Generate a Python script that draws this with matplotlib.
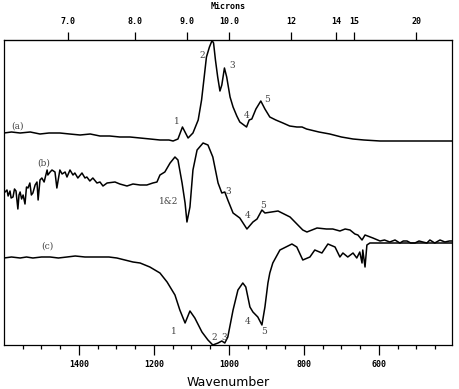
import matplotlib
matplotlib.use("Agg")
import matplotlib.pyplot as plt
from matplotlib.ticker import FixedLocator

# Spectrum (a)
wn_a = [1600, 1580, 1557, 1530, 1504, 1480, 1451, 1425, 1397, 1370, 1344, 1318, 1291, 1264, 1237, 1210,
        1184, 1160, 1149, 1136, 1124, 1109, 1096, 1082, 1073, 1066, 1060, 1052, 1045, 1041, 1036, 1030,
        1024, 1019, 1012, 1006, 997, 989, 979, 971, 953, 946, 939, 928, 915, 904, 891, 875, 856, 838,
        819, 805, 793, 760, 731, 700, 669, 640, 597, 500, 403]
ab_a = [212, 213, 212, 213, 211, 212, 212, 211, 210, 211, 209, 209, 208, 208, 207, 206,
        205, 205, 204, 206, 218, 207, 212, 225, 245, 268, 288, 298, 304.5, 302, 285, 268,
        254, 260, 277, 268, 248, 238, 229, 223, 218, 225, 226, 236, 244, 236, 228, 225, 222, 219,
        218, 218, 216, 213, 211, 208, 206, 205, 204, 204, 204]

# Spectrum (b)
wn_b = [1600, 1592, 1589, 1584, 1581, 1576, 1572, 1568, 1563, 1560, 1557, 1553, 1549, 1544, 1540,
        1536, 1531, 1527, 1523, 1517, 1512, 1509,
        1504, 1499, 1493, 1485, 1483, 1477, 1472, 1464, 1459, 1451, 1445, 1437, 1432, 1424, 1416,
        1411, 1403, 1392, 1384, 1379, 1371, 1363, 1352, 1344, 1336, 1325, 1304, 1291, 1272, 1256,
        1237, 1219, 1203, 1192, 1184, 1171, 1157, 1144, 1136, 1125, 1117, 1112, 1104, 1096, 1085,
        1069, 1056, 1043, 1029, 1019, 1011, 1003, 989, 971, 952, 936, 925, 912, 904, 869, 837,
        803, 792, 765, 740, 723, 704, 690, 677, 664, 656, 645, 637, 616, 597, 585, 571, 557, 544,
        535, 525, 515, 504, 493, 483, 472, 464, 451, 437, 424, 412, 403]
ab_b = [152, 155, 149, 154, 147, 148, 156, 154, 136, 150, 153, 146, 150, 141, 158,
        157, 162, 150, 152, 160, 163, 145,
        165, 167, 163, 175, 170, 173, 175, 173, 157, 175, 171, 173, 168, 175, 170,
        172, 167, 172, 167, 168, 164, 167, 162, 163, 159, 162, 163, 161, 159, 161,
        160, 160, 162, 163, 170, 173, 182, 188, 185, 162, 142, 123, 138, 175, 195,
        202, 200, 188, 162, 152, 153, 145, 132, 127, 116, 123, 126, 135, 132, 134, 128,
        115, 113, 117, 116, 116, 114, 116, 115, 111, 110, 105, 110, 107, 104, 105, 103, 105, 102,
        104, 104, 102, 102, 104, 103, 102, 105, 102, 105, 103, 104, 104]

# Spectrum (c)
wn_c = [1600, 1580, 1557, 1540, 1523, 1500, 1477, 1455, 1432, 1410, 1384, 1360, 1344, 1320, 1299,
        1256, 1237, 1211, 1184, 1165, 1144, 1131, 1117, 1104, 1091, 1072, 1056, 1043, 1029, 1019,
        1011, 1003, 989, 976, 963, 955, 944, 936, 923, 912, 904, 896, 891, 883, 864, 832, 819,
        803, 784, 771, 752, 736, 717, 704, 696, 683, 669, 659, 651, 645, 643, 637, 632, 624, 403]
ab_c = [87, 88, 87, 88, 87, 88, 88, 87, 88, 89, 88, 88, 88, 88, 87,
        83, 82, 78, 72, 63, 50, 35, 22, 34, 27, 13, 5, 0, 2, 4,
        2, 8, 35, 55, 62, 58, 38, 33, 28, 20, 38, 62, 72, 82, 95, 101, 98,
        85, 88, 95, 92, 101, 98, 88, 92, 88, 92, 87, 93, 82, 95, 78, 100, 102, 102]

spectrum_labels = ["(a)", "(b)", "(c)"]
wavenumber_ticks = [1400, 1200, 1000, 800, 600]
wavenumber_minor = [1550, 1500, 1450, 1350, 1300, 1250, 1150, 1100, 1050, 950, 900, 850,
                    750, 700, 650, 550, 500, 450]
micron_ticks = [7, 8, 9, 10, 12, 14, 15, 20]
micron_labels = ["7.0", "8.0", "9.0", "10.0", "12", "14", "15", "20"]

# peak annotations: (text, wavenumber, intensity)
peak_notes = [("1", 1138, 224), ("2", 1072, 290), ("3", 992, 280), ("4", 952, 229), ("5", 897, 245),
              ("1&2", 1162, 143), ("3", 1003, 154), ("4", 949, 129), ("5", 908, 139),
              ("1", 1146, 13), ("2", 1040, 7), ("3", 1013, 7), ("4", 949, 24), ("5", 906, 13)]
series_label_pos = [(1580, 219), (1510, 182), (1500, 99)]

fig = plt.figure(figsize=(4.59, 3.89), dpi=100)
ax = fig.add_axes([4 / 459, 1 - 345 / 389, 448 / 459, 305 / 389])

for wn, ab in [(wn_a, ab_a), (wn_b, ab_b), (wn_c, ab_c)]:
    ax.plot(wn, ab, color="black", lw=1.1)

ax.set_xlim(1600, 405)
ax.set_ylim(0, 305)
ax.set_yticks([])
ax.xaxis.set_major_locator(FixedLocator(wavenumber_ticks))
ax.xaxis.set_minor_locator(FixedLocator(wavenumber_minor))
ax.tick_params(axis="x", which="major", direction="out", length=7, width=0.9,
               labelsize=6, pad=4)
ax.tick_params(axis="x", which="minor", direction="out", length=3, width=0.9)
for lab in ax.get_xticklabels():
    lab.set_fontfamily("DejaVu Sans Mono")
    lab.set_fontweight("bold")
for s in ax.spines.values():
    s.set_linewidth(0.9)
ax.set_xlabel("Wavenumber", fontsize=9, family="DejaVu Sans", labelpad=5)

sec = ax.secondary_xaxis("top", functions=(lambda x: 10000 / x, lambda x: 10000 / x))
sec.xaxis.set_major_locator(FixedLocator(micron_ticks))
sec.set_xticklabels(micron_labels)
sec.xaxis.set_minor_locator(FixedLocator([]))
sec.tick_params(axis="x", which="major", direction="out", length=6, width=0.9, labelsize=6, pad=4)
for lab in sec.get_xticklabels():
    lab.set_fontfamily("DejaVu Sans Mono")
    lab.set_fontweight("bold")
sec.set_xlabel("Microns", fontsize=6, family="DejaVu Sans Mono", fontweight="bold", labelpad=6)

for txt, (x, y) in zip(spectrum_labels, series_label_pos):
    ax.text(x, y, txt, fontsize=6.5, color="#444444", family="DejaVu Serif", ha="left", va="center")
for txt, x, y in peak_notes:
    ax.text(x, y, txt, fontsize=6.5, color="#444444", family="DejaVu Serif", ha="center", va="center")

fig.savefig("out.png", dpi=100)
